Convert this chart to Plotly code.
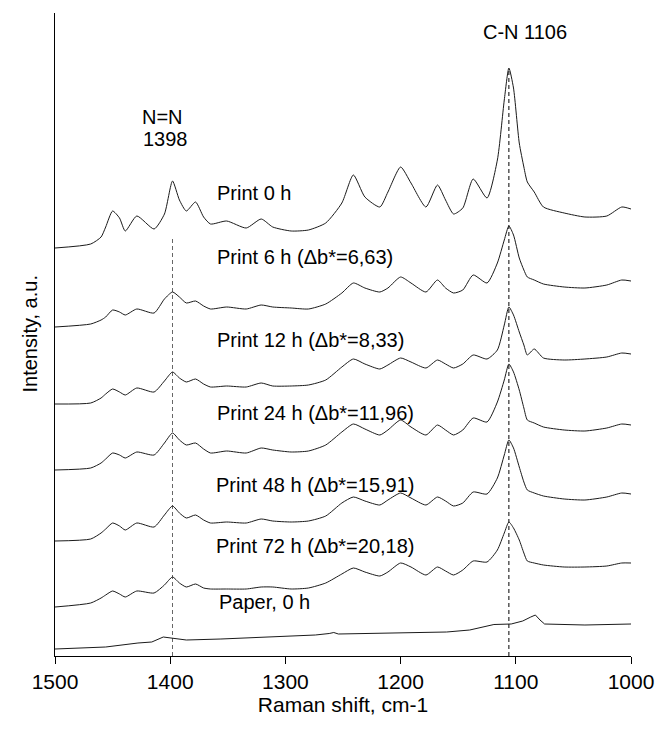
import plotly.graph_objects as go

# Raman shift grid (cm-1) shared by the printed spectra
wavenumber = [1500, 1469, 1460, 1456, 1450, 1444, 1439, 1429, 1414, 1405, 1398, 1392, 1386, 1378,
              1371, 1365, 1351, 1334, 1321, 1311, 1295, 1280, 1265, 1251, 1241, 1231, 1218, 1211,
              1200, 1191, 1178, 1168, 1161, 1154, 1146, 1137, 1125, 1116, 1110, 1106, 1102, 1097,
              1093, 1090, 1084, 1076, 1058, 1040, 1021, 1008, 1000]

print_0h = [408, 412, 419, 429, 445, 438, 425, 440, 427, 442, 475, 456, 445, 454, 439, 432, 435, 428,
            437, 429, 425, 426, 433, 453, 481, 459, 449, 464, 489, 473, 449, 471, 456, 442, 448, 477,
            458, 496, 556, 588, 568, 513, 489, 474, 464, 449, 443, 439, 440, 449, 447]
print_6h = [329, 332, 336, 339, 346, 344, 341, 347, 343, 357, 364, 359, 353, 355, 350, 347, 349, 347,
            351, 349, 348, 347, 352, 363, 373, 368, 364, 368, 379, 373, 364, 376, 368, 363, 366, 381,
            373, 393, 416, 430, 421, 398, 386, 379, 376, 372, 369, 368, 371, 376, 375]
print_12h = [252, 253, 258, 262, 267, 264, 261, 268, 264, 275, 284, 278, 274, 277, 272, 269, 270, 269,
             273, 270, 270, 271, 276, 289, 297, 292, 287, 291, 298, 294, 288, 296, 292, 288, 292, 301,
             297, 306, 331, 349, 341, 324, 311, 301, 307, 298, 296, 297, 299, 303, 302]
print_24h = [186, 188, 193, 197, 203, 201, 198, 204, 201, 213, 223, 216, 211, 213, 207, 203, 205, 203,
             208, 206, 204, 205, 211, 224, 232, 227, 221, 226, 236, 229, 221, 231, 226, 221, 226, 238,
             234, 254, 276, 292, 284, 266, 248, 236, 233, 229, 226, 225, 228, 232, 231]
print_48h = [115, 117, 123, 127, 133, 130, 126, 133, 129, 141, 150, 143, 138, 141, 136, 133, 134, 133,
             137, 135, 134, 135, 140, 153, 159, 155, 151, 156, 163, 158, 151, 159, 155, 150, 153, 164,
             162, 178, 201, 216, 208, 189, 174, 166, 163, 160, 157, 156, 159, 163, 162]
print_72h = [49, 53, 58, 61, 65, 62, 59, 65, 63, 71, 79, 73, 69, 72, 68, 67, 67, 67,
             69, 69, 67, 68, 73, 82, 88, 84, 80, 84, 93, 89, 81, 89, 85, 81, 86, 95,
             94, 106, 123, 134, 128, 116, 103, 95, 93, 91, 89, 89, 90, 93, 93]

# Unprinted paper spectrum
paper_wavenumber = [1500, 1456, 1428, 1416, 1406, 1398, 1386, 1356, 1312, 1274, 1262, 1258, 1254,
                    1203, 1160, 1140, 1119, 1104, 1094, 1087, 1083, 1079, 1075, 1040, 1000]
paper_0h = [7, 9, 13, 14, 19, 18, 16, 17, 19, 21, 22.5, 23.5, 22, 23, 24, 26, 31.5, 32, 35, 39, 41,
            36, 32, 31, 32]

series_names = ["Print 0 h", "Print 6 h", "Print 12 h", "Print 24 h", "Print 48 h", "Print 72 h"]
series_values = [print_0h, print_6h, print_12h, print_24h, print_48h, print_72h]

# Labels
label_texts = ["Print 0 h", "Print 6 h (Δb*=6,63)", "Print 12 h (Δb*=8,33)",
               "Print 24 h (Δb*=11,96)", "Print 48 h (Δb*=15,91)", "Print 72 h (Δb*=20,18)",
               "Paper, 0 h"]
label_x = [1361, 1361, 1361, 1361, 1362, 1362, 1359]
label_y = [463, 399, 316, 243, 171, 110, 54]

# Band markers
band_positions = [1398, 1106]
band_tops = [419, 588]
band_colors = ["#666666", "#000000"]

x_ticks = [1500, 1400, 1300, 1200, 1100, 1000]

FONT = "Arial, Liberation Sans, sans-serif"

fig = go.Figure()
for name, vals in zip(series_names, series_values):
    fig.add_trace(go.Scatter(x=wavenumber, y=vals, mode="lines", name=name,
                             line=dict(color="#1a1a1a", width=1, shape="spline", smoothing=0.6),
                             showlegend=False, hoverinfo="skip"))
fig.add_trace(go.Scatter(x=paper_wavenumber, y=paper_0h, mode="lines", name="Paper, 0 h",
                         line=dict(color="#1a1a1a", width=1), showlegend=False, hoverinfo="skip"))

for pos, top, col in zip(band_positions, band_tops, band_colors):
    fig.add_shape(type="line", xref="x", yref="y", x0=pos, x1=pos, y0=0, y1=top,
                  line=dict(color=col, width=1, dash="4px,3px"), layer="below")

for t, x, y in zip(label_texts, label_x, label_y):
    fig.add_annotation(x=x, y=y, xref="x", yref="y", text=t, showarrow=False,
                       xanchor="left", yanchor="middle", font=dict(family=FONT, size=20, color="black"))

fig.add_annotation(x=1426, y=539, xref="x", yref="y", text="N=N", showarrow=False,
                   xanchor="left", yanchor="middle", font=dict(family=FONT, size=20, color="black"))
fig.add_annotation(x=1425, y=517, xref="x", yref="y", text="1398", showarrow=False,
                   xanchor="left", yanchor="middle", font=dict(family=FONT, size=20, color="black"))
fig.add_annotation(x=1092, y=624, xref="x", yref="y", text="C-N 1106", showarrow=False,
                   xanchor="center", yanchor="middle", font=dict(family=FONT, size=20, color="black"))

fig.add_annotation(x=0, y=0.5, xref="paper", yref="paper", xshift=-26, text="Intensity, a.u.",
                   textangle=-90, showarrow=False, xanchor="center", yanchor="middle",
                   font=dict(family=FONT, size=20, color="black"))

fig.update_layout(
    width=666, height=732,
    margin=dict(l=55, r=25, t=13, b=76),
    paper_bgcolor="white", plot_bgcolor="white",
    font=dict(family=FONT, size=21, color="black"),
)
fig.update_xaxes(range=[1500, 1000], tickvals=x_ticks, ticks="outside", ticklen=7, tickwidth=1,
                 tickcolor="black", showline=True, linecolor="black", linewidth=1,
                 showgrid=False, zeroline=False,
                 tickfont=dict(family=FONT, size=21, color="black"),
                 title=dict(text="Raman shift, cm-1", font=dict(family=FONT, size=21, color="black"),
                            standoff=4))
fig.update_yaxes(range=[0, 643], showline=True, linecolor="black", linewidth=1,
                 showticklabels=False, ticks="", showgrid=False, zeroline=False)

fig.write_html("out.html")
